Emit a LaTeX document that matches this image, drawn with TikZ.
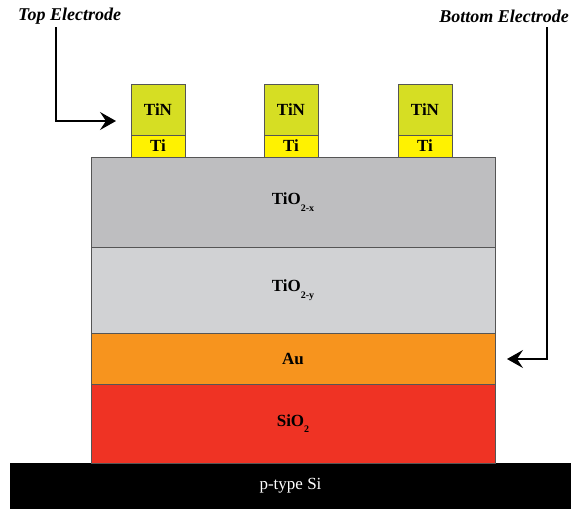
\documentclass[tikz,border=0pt]{standalone}
\usepackage{fontspec}
\setmainfont{Liberation Serif}
\usetikzlibrary{arrows.meta}
\definecolor{tincol}{RGB}{214,222,35}
\definecolor{ticol}{RGB}{255,242,0}
\definecolor{tioxcol}{RGB}{190,190,192}
\definecolor{tioycol}{RGB}{209,210,212}
\definecolor{aucol}{RGB}{247,148,30}
\definecolor{siocol}{RGB}{239,51,36}
\definecolor{edgecol}{RGB}{85,85,85}
\newcommand{\lsub}[1]{\raisebox{-0.4em}{\fontsize{10}{10}\selectfont #1}}
\begin{document}
\begin{tikzpicture}[x=1pt,y=-1pt,
  layer/.style={draw=edgecol,line width=0.6pt,inner sep=0pt,outer sep=0pt,anchor=north west,font=\fontsize{17}{17}\selectfont\bfseries},
  tinbox/.style={layer,fill=tincol,minimum width=54pt,minimum height=51pt},
  tibox/.style={layer,fill=ticol,minimum width=54pt,minimum height=22pt},
  lbl/.style={font=\fontsize{18}{18}\selectfont\bfseries\itshape,inner sep=0pt},
  arr/.style={line width=1.5pt,-{Stealth[length=16pt,width=18pt,inset=6pt]}}]
\useasboundingbox (0,0) rectangle (571,509);
% substrate
\node[layer,draw=black,fill=black,text=white,minimum width=561pt,minimum height=46pt,font=\fontsize{17}{17}\selectfont] (si) at (10,463) {p-type Si};
% layers
\node[layer,fill=siocol,minimum width=404pt,minimum height=79pt] (sio) at (91,384) {SiO\lsub{2}};
\node[layer,fill=aucol,minimum width=404pt,minimum height=51pt] (au) at (91,333) {Au};
\node[layer,fill=tioycol,minimum width=404pt,minimum height=86pt] (tioy) at (91,247) {TiO\lsub{2-y}};
\node[layer,fill=tioxcol,minimum width=404pt,minimum height=90pt] (tiox) at (91,157) {\raisebox{4pt}{TiO\lsub{2-x}}};
% electrodes
\node[tibox] (ti1) at (131,135) {Ti};
\node[tinbox] (tin1) at (131,84) {TiN};
\node[tibox] (ti2) at (264,135) {Ti};
\node[tinbox] (tin2) at (264,84) {TiN};
\node[tibox] (ti3) at (398,135) {Ti};
\node[tinbox] (tin3) at (398,84) {TiN};
% labels
\node[lbl,anchor=west] (toplbl) at (18,16) {Top Electrode};
\node[lbl,anchor=east] (botlbl) at (569,16) {Bottom Electrode};
% connectors
\coordinate (ts) at (56,27);
\coordinate (tt) at (116,121);
\coordinate (bs) at (547,27);
\coordinate (bt) at (507,359);
\draw[arr] (ts) |- (tt);
\draw[arr] (bs) |- (bt);
\end{tikzpicture}
\end{document}
